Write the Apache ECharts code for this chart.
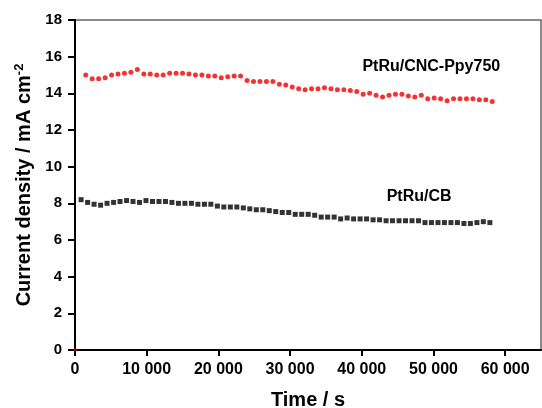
<!DOCTYPE html>
<html lang="en">
<head>
  <meta charset="UTF-8">
  <title>Current density vs time</title>
  <style>
    html, body { margin: 0; padding: 0; background: #fff; }
    #chart { width: 542px; height: 408px; }
  </style>
</head>
<body>
  <div id="chart"></div>
  <script src="https://cdn.jsdelivr.net/npm/echarts@6/dist/echarts.min.js"></script>
  <script>
    // PtRu/CNC-Ppy750 (red dots)
    var timeRed = [1500, 2400, 3300, 4200, 5100, 6000, 6900, 7800, 8700, 9600, 10500, 11400, 12300, 13200, 14100, 15000,
      15900, 16800, 17700, 18600, 19500, 20400, 21300, 22200, 23100, 24000, 24900, 25800, 26700, 27600, 28500, 29400,
      30300, 31200, 32100, 33000, 33900, 34800, 35700, 36600, 37500, 38400, 39300, 40200, 41100, 42000, 42900, 43800,
      44700, 45600, 46500, 47400, 48300, 49200, 50100, 51000, 51900, 52800, 53700, 54600, 55500, 56400, 57300, 58200];
    var currentRed = [15.0, 14.8, 14.8, 14.85, 15.0, 15.05, 15.1, 15.15, 15.3, 15.05, 15.05, 15.0, 15.0, 15.1, 15.1, 15.1,
      15.05, 15.0, 15.0, 14.95, 14.95, 14.85, 14.9, 14.95, 14.95, 14.7, 14.65, 14.65, 14.65, 14.65, 14.5, 14.45,
      14.35, 14.25, 14.2, 14.25, 14.25, 14.3, 14.25, 14.2, 14.2, 14.15, 14.1, 13.95, 14.0, 13.9, 13.8, 13.9,
      13.95, 13.95, 13.85, 13.8, 13.9, 13.7, 13.75, 13.7, 13.6, 13.7, 13.7, 13.7, 13.7, 13.65, 13.65, 13.55];

    // PtRu/CB (black squares)
    var timeBlack = [850, 1760, 2660, 3570, 4470, 5380, 6280, 7190, 8090, 9000, 9900, 10810, 11710, 12620, 13520, 14430,
      15330, 16240, 17140, 18050, 18950, 19860, 20760, 21670, 22570, 23480, 24380, 25290, 26190, 27100, 28000, 28910,
      29810, 30720, 31620, 32530, 33430, 34340, 35240, 36150, 37050, 37960, 38860, 39770, 40670, 41580, 42480, 43390,
      44290, 45200, 46100, 47010, 47910, 48820, 49720, 50630, 51530, 52440, 53340, 54250, 55150, 56060, 56960, 57870];
    var currentBlack = [8.2, 8.05, 7.95, 7.9, 8.0, 8.05, 8.1, 8.15, 8.1, 8.05, 8.15, 8.1, 8.1, 8.1, 8.05, 8.0,
      8.0, 8.0, 7.95, 7.95, 7.95, 7.85, 7.8, 7.8, 7.8, 7.75, 7.7, 7.65, 7.65, 7.6, 7.55, 7.5,
      7.5, 7.4, 7.4, 7.4, 7.35, 7.25, 7.25, 7.25, 7.15, 7.2, 7.15, 7.15, 7.15, 7.1, 7.1, 7.05,
      7.05, 7.05, 7.05, 7.05, 7.05, 6.95, 6.95, 6.95, 6.95, 6.95, 6.95, 6.9, 6.9, 6.95, 7.0, 6.95];

    var seriesNames = ['PtRu/CNC-Ppy750', 'PtRu/CB'];
    // where the in-plot labels sit, in data units [time, current]
    var labelAt = [[49700, 15.45], [48000, 8.35]];

    function pairs(xs, ys) {
      return xs.map(function (x, i) { return [x, ys[i]]; });
    }

    var font = 'Liberation Sans, Arial, sans-serif';

    function nameMark(i) {
      return {
        symbol: 'circle',
        symbolSize: 1,
        itemStyle: { color: 'rgba(0,0,0,0)' },
        label: {
          show: true,
          position: 'inside',
          formatter: seriesNames[i],
          color: '#000',
          fontFamily: font,
          fontWeight: 'bold',
          fontSize: 16
        },
        data: [{ coord: labelAt[i] }]
      };
    }

    var redData = pairs(timeRed, currentRed);
    // the stray red dot at the origin
    redData.unshift({ value: [0, 0], symbolSize: 3 });

    var chart = echarts.init(document.getElementById('chart'));
    chart.setOption({
      animation: false,
      backgroundColor: '#fff',
      grid: {
        left: 75, right: 1, top: 20, bottom: 58,
        outerBoundsMode: 'none',
        containLabel: false,
        show: true,
        borderColor: '#666',
        borderWidth: 1.5,
        backgroundColor: 'transparent'
      },
      xAxis: {
        type: 'value',
        min: 0,
        max: 65000,
        interval: 10000,
        name: 'Time / s',
        nameLocation: 'middle',
        nameGap: 40,
        nameTextStyle: { fontFamily: font, fontWeight: 'bold', fontSize: 20, color: '#000' },
        axisLine: { lineStyle: { color: '#000', width: 2 } },
        axisTick: { inside: false, length: 6, lineStyle: { color: '#000', width: 2 } },
        splitLine: { show: false },
        axisLabel: {
          showMaxLabel: false,
          margin: 12,
          fontFamily: font,
          fontWeight: 'bold',
          fontSize: 16,
          color: '#000',
          formatter: function (v) { return v === 0 ? '0' : (v / 1000) + ' 000'; }
        }
      },
      yAxis: {
        type: 'value',
        min: 0,
        max: 18,
        interval: 2,
        name: 'Current density / mA cm{sup|-2}',
        nameLocation: 'middle',
        nameGap: 31,
        nameTextStyle: {
          fontFamily: font, fontWeight: 'bold', fontSize: 20, color: '#000',
          rich: {
            sup: { fontFamily: font, fontWeight: 'bold', fontSize: 13, color: '#000', padding: [0, 0, 10, 0] }
          }
        },
        axisLine: { lineStyle: { color: '#000', width: 2 } },
        axisTick: { inside: false, length: 7, lineStyle: { color: '#000', width: 2 } },
        splitLine: { show: false },
        axisLabel: {
          margin: 13,
          fontFamily: font,
          fontWeight: 'bold',
          fontSize: 15,
          color: '#000'
        }
      },
      series: [
        {
          name: seriesNames[0],
          type: 'scatter',
          symbol: 'circle',
          symbolSize: 5,
          itemStyle: { color: '#f00000' },
          data: redData,
          markPoint: nameMark(0)
        },
        {
          name: seriesNames[1],
          type: 'scatter',
          symbol: 'rect',
          symbolSize: 5,
          itemStyle: { color: '#000' },
          data: pairs(timeBlack, currentBlack),
          markPoint: nameMark(1)
        }
      ]
    });
  </script>
</body>
</html>
